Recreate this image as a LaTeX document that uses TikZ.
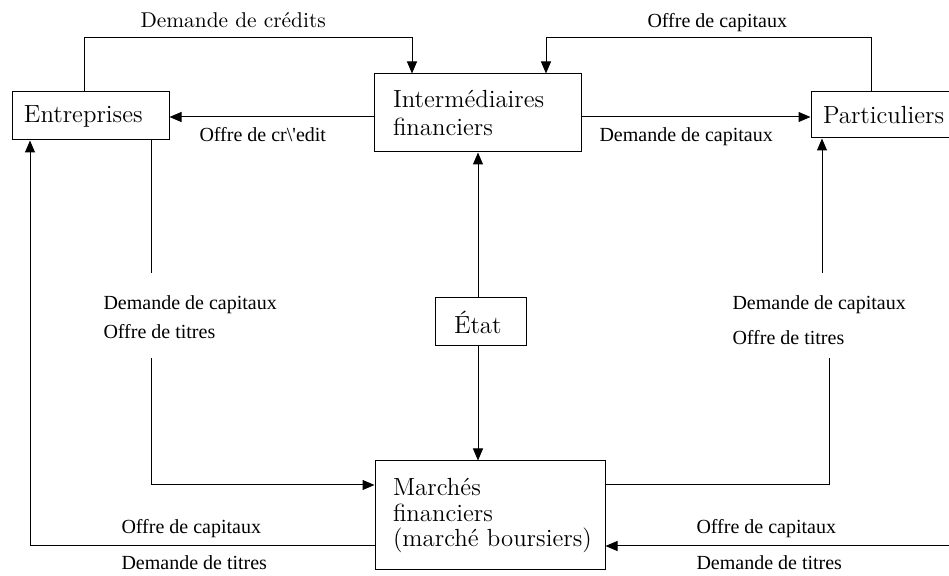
\documentclass[tikz,border=0pt]{standalone}
\usepackage{fontspec}
\newfontfamily\labfont{Liberation Serif}
\usetikzlibrary{arrows.meta,calc}
\hfuzz=30pt
\begin{document}
\begin{tikzpicture}[x=0.5pt,y=-0.5pt,
  line width=0.5pt,
  arr/.style={-{Triangle[length=6pt,width=5pt]}},
  box/.style={draw,rectangle,inner ysep=0pt,align=left,
    font=\fontsize{12.4pt}{14pt}\selectfont},
  lab/.style={anchor=base west,inner sep=0pt,font=\labfont\fontsize{10pt}{12pt}\selectfont},
  labcm/.style={anchor=base west,inner sep=0pt,font=\fontsize{10.7pt}{13pt}\selectfont}]
\useasboundingbox (0,0) rectangle (949,576);
% boxes
\node[box,inner xsep=6pt,text width=66.5pt,minimum height=24pt] (ent) at (90.5,116) {Entreprises};
\node[box,inner xsep=9.5pt,text width=84.5pt,minimum height=39pt] (int) at (477.5,113) {Intermédiaires\\financiers};
\node[box,inner xsep=6pt,text width=62.5pt,minimum height=23pt] (par) at (885.5,115) {Particuliers};
\node[box,inner xsep=9.5pt,text width=26.5pt,minimum height=24pt] (etat) at (480.5,322) {État};
\node[box,inner xsep=9pt,text width=97pt,minimum height=54.5pt,font=\fontsize{12.4pt}{12.6pt}\selectfont] (mar) at (490,515.5) {Marchés\\financiers\\\mbox{(marché boursiers)}};
% helper coordinates
\coordinate (tl) at (84,38);
\coordinate (tr) at (412,38);
\coordinate (ul) at (546,38);
\coordinate (ur) at (871,38);
\coordinate (h1) at (0,117);
\coordinate (v) at (478,0);
\coordinate (l1) at (151,273);
\coordinate (l2) at (151,358);
\coordinate (l3) at (0,485);
\coordinate (l0) at (30,0);
\coordinate (b1) at (0,546);
\coordinate (r1) at (822,273);
\coordinate (r2) at (829,358);
\coordinate (rb) at (949,546);
% connectors
\draw[arr] (ent.north -| tl) -- (tl) -- (tr) -- (int.north -| tr);
\draw[arr] (par.north -| ur) -- (ur) -- (ul) -- (int.north -| ul);
\draw[arr] (int.west |- h1) -- (ent.east |- h1);
\draw[arr] (int.east |- h1) -- (par.west |- h1);
\draw[arr] (etat.north -| v) -- (int.south -| v);
\draw[arr] (etat.south -| v) -- (mar.north -| v);
\draw (ent.south -| l1) -- (l1);
\draw[arr] (l2) |- (mar.west |- l3);
\draw[arr] (mar.west |- b1) -| (ent.south -| l0);
\draw[arr] (r1) -- (par.south -| r1);
\draw (r2) |- (mar.east |- l3);
\draw[arr] (rb) -- (mar.east |- rb);
% labels
\node[labcm] (t1) at (140,27.5) {Demande de crédits};
\node[lab] (t2) at (647,27.5) {Offre de capitaux};
\node[lab] (t3) at (199,142) {Offre de cr\textbackslash'edit};
\node[lab] (t4) at (599,142) {Demande de capitaux};
\node[lab] (t5) at (103,310) {Demande de capitaux};
\node[lab] (t6) at (103,339) {Offre de titres};
\node[lab] (t7) at (732,310) {Demande de capitaux};
\node[lab] (t8) at (732,345) {Offre de titres};
\node[lab] (t9) at (121,534) {Offre de capitaux};
\node[lab] (t10) at (121,570) {Demande de titres};
\node[lab] (t11) at (696,534) {Offre de capitaux};
\node[lab] (t12) at (696,570) {Demande de titres};
\end{tikzpicture}
\end{document}
